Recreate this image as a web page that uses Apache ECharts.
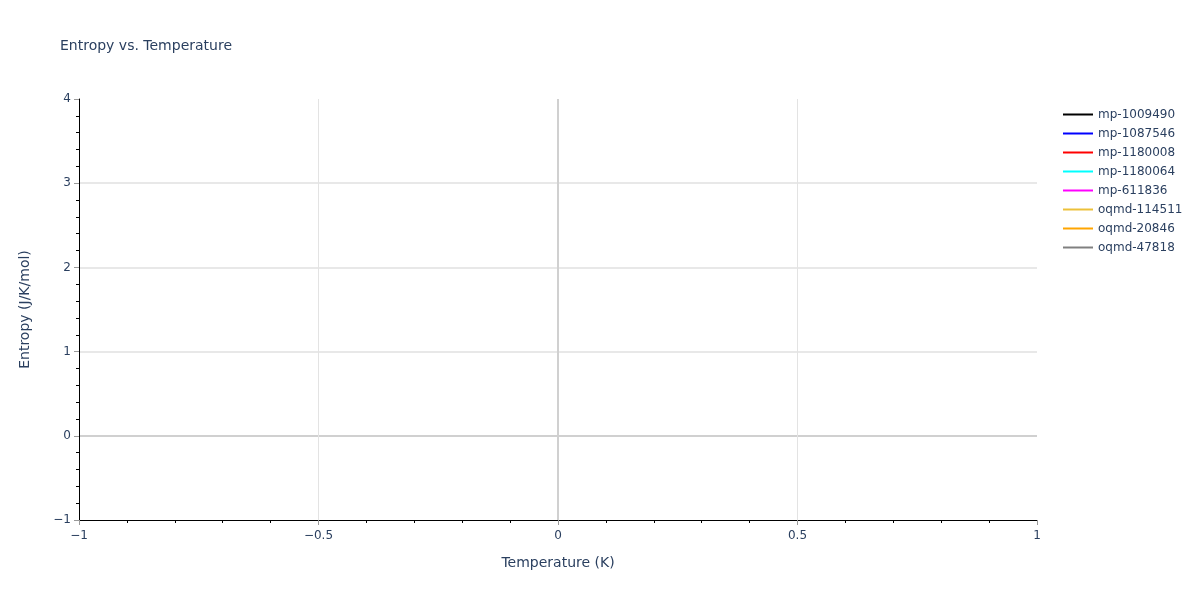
<!DOCTYPE html>
<html>
<head>
<meta charset="utf-8">
<script src="https://cdn.jsdelivr.net/npm/echarts@6/dist/echarts.min.js"></script>
<style>html,body{margin:0;padding:0;background:#fff}#c{width:1200px;height:600px}</style>
</head>
<body>
<div id="c"></div>
<script>
// Data (the reference plot contains no visible data points)
var seriesNames = ['mp-1009490','mp-1087546','mp-1180008','mp-1180064','mp-611836','oqmd-114511','oqmd-20846','oqmd-47818'];
var seriesColors = ['#000000','#0000ff','#ff0000','#00ffff','#ff00ff','#ecc13a','#ffa500','#808080'];
var temperatures = [];
var entropyValues = [[],[],[],[],[],[],[],[]];
var xRange = [-1, 1];
var yRange = [-1, 4];

var txt = '#2a3f5f';
var font = '"DejaVu Sans", Verdana, sans-serif';
function fmt(v){ return v < 0 ? '\u2212' + Math.abs(v) : String(v); }

var series = seriesNames.map(function(name, i){
  var s = {
    name: name,
    type: 'line',
    symbol: 'none',
    color: seriesColors[i],
    lineStyle: {width: 2, color: seriesColors[i]},
    data: temperatures.map(function(t, j){ return [t, entropyValues[i][j]]; })
  };
  if (i === 0) {
    s.markLine = {
      silent: true, symbol: 'none', animation: false,
      label: {show: false},
      lineStyle: {color: '#d0d0d0', width: 2, type: 'solid'},
      data: [{xAxis: 0}]
    };
  }
  return s;
});

var chart = echarts.init(document.getElementById('c'));
chart.setOption({
  animation: false,
  backgroundColor: '#fff',
  title: {
    text: 'Entropy vs. Temperature',
    left: 60, top: 39, padding: 0,
    textStyle: {color: txt, fontFamily: font, fontSize: 14, fontWeight: 'normal'}
  },
  legend: {
    orient: 'vertical',
    left: 1063, top: 105, padding: 0,
    icon: 'path://M0,0H30V2H0Z',
    itemWidth: 30, itemHeight: 2, itemGap: 0,
    textStyle: {color: txt, fontFamily: font, fontSize: 12, lineHeight: 19},
    data: seriesNames.map(function(n, i){ return {name: n, itemStyle: {color: seriesColors[i]}}; })
  },
  grid: {left: 79, right: 163, top: 99, bottom: 80, containLabel: false},
  xAxis: {
    type: 'value', min: xRange[0], max: xRange[1], interval: 0.5,
    name: 'Temperature (K)', nameLocation: 'middle', nameGap: 36,
    nameTextStyle: {color: txt, fontFamily: font, fontSize: 14},
    axisLine: {show: true, onZero: false, lineStyle: {color: '#000', width: 1}},
    axisTick: {show: true, length: 5, lineStyle: {color: '#999'}},
    minorTick: {show: true, splitNumber: 5, length: 3, lineStyle: {color: '#000'}},
    axisLabel: {color: txt, fontFamily: font, fontSize: 12, margin: 10, formatter: fmt},
    splitLine: {show: true, lineStyle: {width: 1, color: ['rgba(0,0,0,0)','#e3e3e3','#e3e3e3','#e3e3e3','rgba(0,0,0,0)']}}
  },
  yAxis: {
    type: 'value', min: yRange[0], max: yRange[1], interval: 1,
    name: 'Entropy (J/K/mol)', nameLocation: 'middle', nameGap: 47,
    nameTextStyle: {color: txt, fontFamily: font, fontSize: 14},
    axisLine: {show: true, onZero: false, lineStyle: {color: '#000', width: 1}},
    axisTick: {show: true, length: 5, lineStyle: {color: '#999'}},
    minorTick: {show: true, splitNumber: 5, length: 3, lineStyle: {color: '#000'}},
    axisLabel: {color: txt, fontFamily: font, fontSize: 12, margin: 8, formatter: fmt},
    splitLine: {show: true, lineStyle: {width: 2, color: ['rgba(0,0,0,0)','#d0d0d0','#e8e8e8','#e8e8e8','#e8e8e8','rgba(0,0,0,0)']}}
  },
  series: series
});
</script>
</body>
</html>
